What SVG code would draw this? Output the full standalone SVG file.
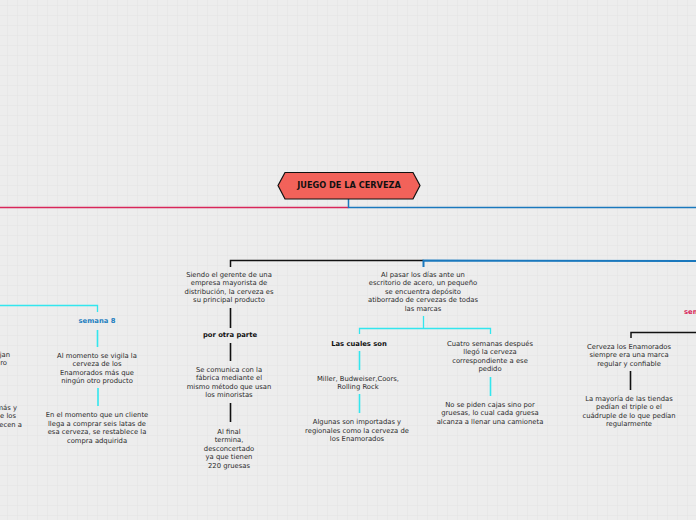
<svg xmlns="http://www.w3.org/2000/svg" width="696" height="520" viewBox="0 0 696 520">
<defs>
<pattern id="grid" x="7" y="5" width="10" height="10" patternUnits="userSpaceOnUse">
<rect width="10" height="10" fill="#ededed"/>
<path d="M0 0H10M0 0V10" stroke="#e4e4e4" stroke-width="1" fill="none"/>
</pattern>
<style>
text{font-family:"DejaVu Sans",Verdana,sans-serif;font-size:6.8px;fill:#2a2a2a;text-anchor:middle}
.b{font-weight:bold;fill:#111}
.t{font-weight:bold;font-size:8.2px;fill:#111}
.sb{font-weight:bold;fill:#1f7fc0}
.sr{font-weight:bold;fill:#d8265a;text-anchor:start}
.e{text-anchor:end}
.k{stroke:#111;fill:none}
.c{stroke:#33e6ee;fill:none}
.bl{stroke:#1a78bd;fill:none}
</style>
</defs>
<rect width="696" height="520" fill="url(#grid)"/>
<g id="connectors">
<path d="M0 207.5H348.5" stroke="#d8265a" stroke-width="1.6" fill="none"/>
<path class="bl" d="M348.5 199V207.5H696" stroke-width="1.5"/>
<path class="k" d="M230.5 267V260.5H423.5" stroke-width="1.5"/>
<path class="bl" d="M423.5 267V260.5L696 261" stroke-width="2"/>
<path class="k" d="M230.5 308V328M230.5 343V361M230.5 403V422" stroke-width="1.6"/>
<path class="c" d="M423.5 316V328.5M359.5 334V328.5H490.5V334" stroke-width="1.3"/>
<path class="c" d="M359.5 351V370M359.5 394V413M490.5 377V396" stroke-width="1.6"/>
<path class="c" d="M0 305.5H97.5V312" stroke-width="1.3"/>
<path class="c" d="M97.5 330V347M98 388V406" stroke-width="1.6"/>
<path class="k" d="M631 338V332.5H696" stroke-width="1.5"/>
<path class="k" d="M630.5 371V390" stroke-width="1.6"/>
</g>
<g id="root">
<polygon points="278,185.5 285,172.5 413,172.5 420,185.5 413,199 285,199" fill="#f2625a" stroke="#111" stroke-width="1.2"/>
<text class="t" x="349" y="188.3">JUEGO DE LA CERVEZA</text>
</g>
<g id="n-siendo">
<text x="229" y="276.5">Siendo el gerente de una</text>
<text x="229" y="285">empresa mayorista de</text>
<text x="229" y="293.5">distribución, la cerveza es</text>
<text x="229" y="302">su principal producto</text>
</g>
<g id="n-porotra"><text class="b" x="230" y="336.5">por otra parte</text></g>
<g id="n-comunica">
<text x="229" y="371.5">Se comunica con la</text>
<text x="229" y="380">fábrica mediante el</text>
<text x="229" y="388.5">mismo método  que usan</text>
<text x="229" y="397">los minoristas</text>
</g>
<g id="n-final">
<text x="229" y="433.5">Al final</text>
<text x="229" y="442">termina,</text>
<text x="229" y="450.5">desconcertado</text>
<text x="229" y="459">ya que tienen</text>
<text x="229" y="467.5">220 gruesas</text>
</g>
<g id="n-pasar">
<text x="423" y="276.5">Al pasar los días ante un</text>
<text x="423" y="285">escritorio de acero, un pequeño</text>
<text x="423" y="293.5">se encuentra depósito</text>
<text x="423" y="302">atiborrado de cervezas de todas</text>
<text x="423" y="310.5">las marcas</text>
</g>
<g id="n-cuales"><text class="b" x="359" y="345.5">Las cuales son</text></g>
<g id="n-miller">
<text x="358" y="380.5">Miller, Budweiser,Coors,</text>
<text x="358" y="389">Rolling Rock</text>
</g>
<g id="n-algunas">
<text x="357" y="424">Algunas son importadas y</text>
<text x="357" y="432.5">regionales como la cerveza de</text>
<text x="357" y="441">los Enamorados</text>
</g>
<g id="n-cuatro">
<text x="490" y="345.5">Cuatro semanas después</text>
<text x="490" y="354">llegó la cerveza</text>
<text x="490" y="362.5">correspondiente a ese</text>
<text x="490" y="371">pedido</text>
</g>
<g id="n-nose">
<text x="490" y="406.5">No se piden cajas sino por</text>
<text x="490" y="415">gruesas, lo cual cada gruesa</text>
<text x="490" y="423.5">alcanza a llenar una camioneta</text>
</g>
<g id="n-sem-right"><text class="sr" x="684" y="313.5">semana</text></g>
<g id="n-cerveza">
<text x="629" y="348.5">Cerveza los Enamorados</text>
<text x="629" y="357">siempre era una marca</text>
<text x="629" y="365.5">regular y confiable</text>
</g>
<g id="n-mayoria">
<text x="629" y="400.5">La mayoría de las tiendas</text>
<text x="629" y="409">pedían el triple o el</text>
<text x="629" y="417.5">cuádruple de lo que pedían</text>
<text x="629" y="426">regularmente</text>
</g>
<g id="n-semana8"><text class="sb" x="97" y="322.5">semana 8</text></g>
<g id="n-vigila">
<text x="97" y="357.5">Al momento se vigila la</text>
<text x="97" y="366">cerveza de los</text>
<text x="97" y="374.5">Enamorados más que</text>
<text x="97" y="383">ningún otro producto</text>
</g>
<g id="n-cliente">
<text x="97" y="417">En el momento que un cliente</text>
<text x="97" y="425.5">llega a comprar seis latas de</text>
<text x="97" y="434">esa cerveza, se restablece la</text>
<text x="97" y="442.5">compra adquirida</text>
</g>
<g id="n-left1">
<text class="e" x="10" y="356.5">jan</text>
<text class="e" x="7" y="365">ro</text>
</g>
<g id="n-left2">
<text class="e" x="17" y="409.5">más y</text>
<text class="e" x="16" y="418">e los</text>
<text class="e" x="22" y="426.5">ecen a</text>
</g>
</svg>
